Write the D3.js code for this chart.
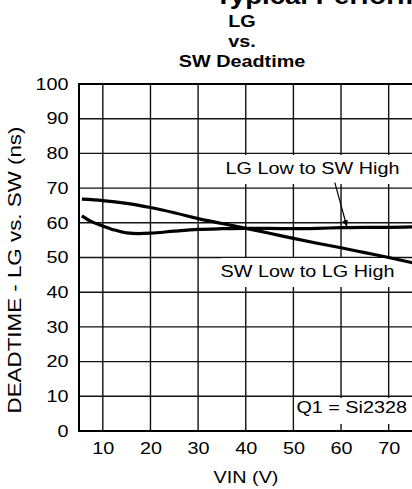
<!DOCTYPE html>
<html><head><meta charset="utf-8">
<script src="https://cdn.jsdelivr.net/npm/d3@7"></script>
<style>html,body{margin:0;padding:0;background:#fff;overflow:hidden}svg{display:block;font-family:"Liberation Sans",Arial,sans-serif}</style>
</head><body><svg id="c" width="412" height="489"></svg>
<script>
const xTicks = [10, 20, 30, 40, 50, 60, 70];
const yTicks = [0, 10, 20, 30, 40, 50, 60, 70, 80, 90, 100];
const vinLGtoSW = [5.6, 7.5, 10, 12.5, 15, 17.5, 20, 25, 30, 35, 40, 45, 50, 55, 60, 65, 70, 75];
const deadLGtoSW = [62.0, 60.4, 59.1, 57.9, 57.1, 56.9, 57.0, 57.6, 58.1, 58.3, 58.4, 58.4, 58.3, 58.4, 58.6, 58.7, 58.7, 58.8];
const vinSWtoLG = [5.6, 10, 15, 20, 25, 30, 35, 40, 45, 50, 55, 60, 65, 70, 75];
const deadSWtoLG = [66.8, 66.4, 65.6, 64.4, 62.9, 61.2, 59.8, 58.4, 57.0, 55.5, 54.1, 52.8, 51.4, 50.0, 48.5];
const labels = ["LG Low to SW High", "SW Low to LG High", "Q1 = Si2328"];
const titleLines = ["LG", "vs.", "SW Deadtime"];

const svg = d3.select("#c");
const x = d3.scaleLinear().domain([5, 75]).range([79, 412.5]);
const y = d3.scaleLinear().domain([0, 100]).range([431, 84]);
const SX = 1.2, FS = 16.5;

function txt(px, py, s, size, anchor, weight) {
  const g = svg.append("g").attr("transform", `translate(${px},${py}) scale(${SX},1)`);
  g.append("text").attr("text-anchor", anchor || "middle").attr("font-size", size)
    .attr("font-weight", weight || "normal").attr("fill", "#000").text(s);
  return g;
}

// titles
txt(215, 4, "Typical Performance Characteristics", 23, "start", "bold");
[26.7, 46.7, 67.3].forEach((yy, i) => txt(242, yy, titleLines[i], FS, "middle", "bold"));

// grid
const g = svg.append("g");
g.selectAll(".vg").data(xTicks).join("line").attr("x1", d => x(d)).attr("x2", d => x(d)).attr("y1", y(100)).attr("y2", y(0)).attr("stroke", "#111").attr("stroke-width", 1.4);
g.selectAll(".hg").data(yTicks.filter(d => d > 0 && d < 100)).join("line").attr("x1", x(5)).attr("x2", x(75)).attr("y1", d => y(d)).attr("y2", d => y(d)).attr("stroke", "#111").attr("stroke-width", 1.4);

// frame
svg.append("line").attr("x1", x(5)).attr("x2", x(75)).attr("y1", y(100)).attr("y2", y(100)).attr("stroke", "#000").attr("stroke-width", 2);
svg.append("line").attr("x1", x(5)).attr("x2", x(75)).attr("y1", y(0)).attr("y2", y(0)).attr("stroke", "#000").attr("stroke-width", 2);
svg.append("line").attr("x1", x(5)).attr("x2", x(5)).attr("y1", y(100) - 1).attr("y2", y(0) + 1).attr("stroke", "#000").attr("stroke-width", 2);

// axes tick labels via d3 axes
const ax = svg.append("g").attr("transform", `translate(0,${y(0)})`).call(d3.axisBottom(x).tickValues(xTicks).tickSize(0).tickPadding(11.3));
ax.select(".domain").remove();
ax.selectAll("text").attr("font-size", FS).attr("font-family", "Liberation Sans, Arial, sans-serif").attr("fill", "#000").attr("transform", `scale(${SX},1)`);
const ay = svg.append("g").attr("transform", `translate(${x(5)},0)`).call(d3.axisLeft(y).tickValues(yTicks).tickSize(0).tickPadding(8.8));
ay.select(".domain").remove();
ay.selectAll("text").attr("font-size", FS).attr("font-family", "Liberation Sans, Arial, sans-serif").attr("fill", "#000").attr("transform", `scale(${SX},1)`);

txt(246, 483, "VIN (V)", FS);
svg.append("text").attr("transform", "translate(21,270) rotate(-90)").attr("text-anchor", "middle")
  .attr("font-size", 18).attr("textLength", 287).attr("lengthAdjust", "spacingAndGlyphs").text("DEADTIME - LG vs. SW (ns)");

// label boxes
function box(x0, y0, x1, y1) { svg.append("rect").attr("x", x0).attr("y", y0).attr("width", x1 - x0).attr("height", y1 - y0).attr("fill", "#fff"); }
box(226, 155, 399, 184);
box(221, 258, 394, 287);
box(294.5, 398, 412, 424);

// curves
const line = d3.line().x(d => x(d[0])).y(d => y(d[1])).curve(d3.curveMonotoneX);
svg.append("path").attr("d", line(d3.zip(vinLGtoSW, deadLGtoSW))).attr("fill", "none").attr("stroke", "#000").attr("stroke-width", 3.2);
svg.append("path").attr("d", line(d3.zip(vinSWtoLG, deadSWtoLG))).attr("fill", "none").attr("stroke", "#000").attr("stroke-width", 3.2);

// text labels
txt(312.5, 174.3, labels[0], FS);
txt(307.5, 276.7, labels[1], FS);
txt(351.7, 412.7, labels[2], FS);

// arrow
svg.append("defs").append("marker").attr("id", "ah").attr("viewBox", "0 0 10 10").attr("refX", 9).attr("refY", 5)
  .attr("markerWidth", 7).attr("markerHeight", 7).attr("orient", "auto").attr("markerUnits", "userSpaceOnUse")
  .append("path").attr("d", "M0,1 L10,5 L0,9 z").attr("fill", "#000");
svg.append("line").attr("x1", x(58.7)).attr("y1", y(71.6)).attr("x2", x(61.2)).attr("y2", y(59.0)).attr("stroke", "#000").attr("stroke-width", 1.2).attr("marker-end", "url(#ah)");
</script></body></html>
